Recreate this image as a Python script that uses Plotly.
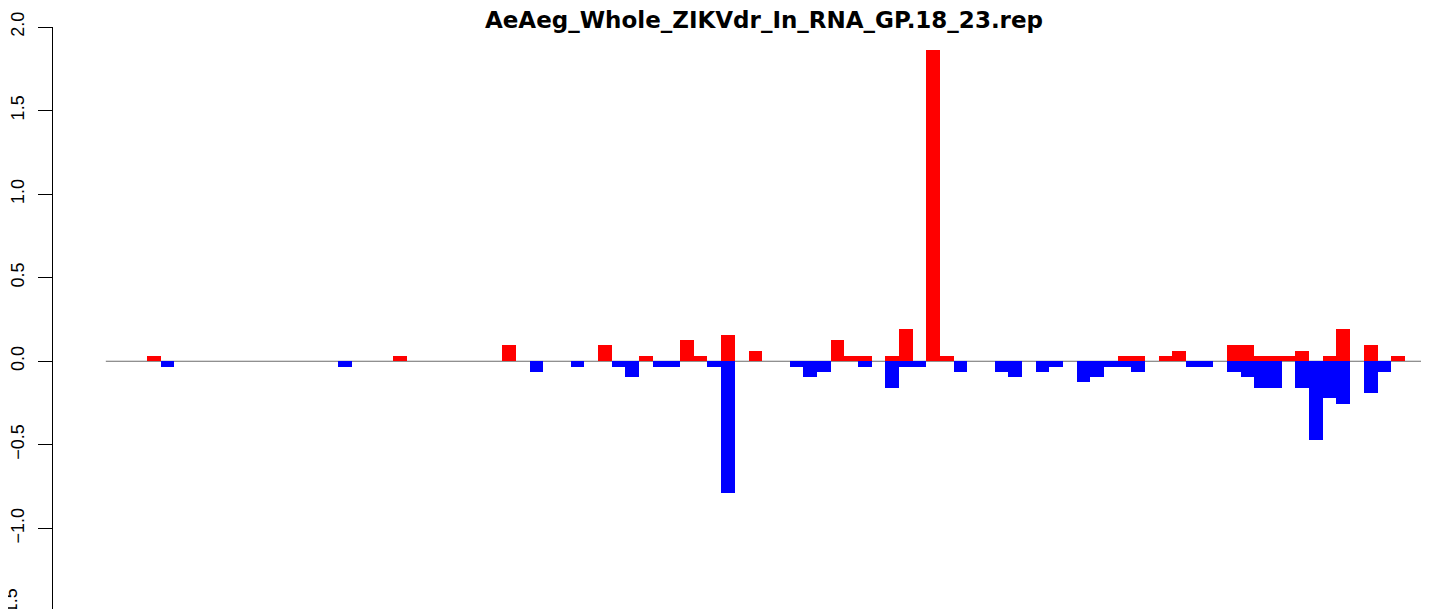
import plotly.graph_objects as go

# sense (red, above 0) and antisense (blue, below 0) values per position slot
red_pos = [3, 21, 29, 36, 39, 42, 43, 45, 47, 53, 54, 55, 57, 58, 60, 61,
           74, 75, 77, 78, 82, 83, 84, 85, 86, 87, 89, 90, 92, 94]
red_val = [0.032, 0.032, 0.095, 0.095, 0.032, 0.126, 0.032, 0.158, 0.063, 0.126,
           0.032, 0.032, 0.032, 0.19, 1.864, 0.032,
           0.032, 0.032, 0.032, 0.063, 0.095, 0.095, 0.032, 0.032, 0.032, 0.063,
           0.032, 0.19, 0.095, 0.032]

blue_pos = [4, 17, 31, 34, 37, 38, 40, 41, 44, 45, 50, 51, 52, 55, 57, 58, 59,
            62, 65, 66, 68, 69, 71, 72, 73, 74, 75, 79, 80, 82, 83, 84, 85,
            87, 88, 89, 90, 92, 93]
blue_val = [-0.032, -0.032, -0.063, -0.032, -0.032, -0.095, -0.032, -0.032, -0.032,
            -0.79, -0.032, -0.095, -0.063, -0.032, -0.158, -0.032, -0.032,
            -0.063, -0.063, -0.095, -0.063, -0.032, -0.126, -0.095, -0.032,
            -0.032, -0.063, -0.032, -0.032, -0.063, -0.095, -0.158, -0.158,
            -0.158, -0.474, -0.221, -0.253, -0.19, -0.063]

y_ticks = [-1.0, -0.5, 0.0, 0.5, 1.0, 1.5, 2.0]
y_labels = ["\u22121.0", "\u22120.5", "0.0", "0.5", "1.0", "1.5", "2.0"]

title = "AeAeg_Whole_ZIKVdr_In_RNA_GP.18_23.rep"

fig = go.Figure()
fig.add_trace(go.Bar(x=[p + 0.5 for p in red_pos], y=red_val, width=1,
                     marker=dict(color="#ff0000", line=dict(width=0))))
fig.add_trace(go.Bar(x=[p + 0.5 for p in blue_pos], y=blue_val, width=1,
                     marker=dict(color="#0000ff", line=dict(width=0))))

# zero line under the bars
fig.add_shape(type="line", xref="x", yref="y", x0=0, x1=100, y0=0, y1=0,
              line=dict(color="#6b6b6b", width=1.2), layer="below")

# the -1.5 label is cut off by the bottom edge in the reference
fig.add_annotation(text="\u22121.5", xref="paper", yref="paper", x=-0.031, y=0.006,
                   textangle=-90, showarrow=False, xanchor="center", yanchor="middle",
                   font=dict(family="Liberation Sans", size=18, color="black"))

# page body has an 8px margin, so the figure is a bit smaller than the window
fig.update_layout(
    width=1421, height=601,
    margin=dict(l=43, r=0, t=19, b=0),
    plot_bgcolor="white", paper_bgcolor="white",
    barmode="overlay", bargap=0, showlegend=False,
    font=dict(family="Liberation Sans", size=18, color="black"),
    title=dict(text=title, x=756 / 1421, xref="container", xanchor="center",
               y=0.98, yref="container", yanchor="middle",
               font=dict(family="DejaVu Sans", size=23, weight="bold", color="black")),
    xaxis=dict(range=[-3.863, 96.765], visible=False),
    yaxis=dict(range=[-1.4826, 2.0], tickvals=y_ticks, ticktext=y_labels,
               tickangle=-90, showline=True, linecolor="black", linewidth=1,
               ticks="outside", ticklen=14, tickcolor="black", tickwidth=1,
               ticklabelstandoff=7, showgrid=False, zeroline=False),
)

fig.write_html("out.html")
